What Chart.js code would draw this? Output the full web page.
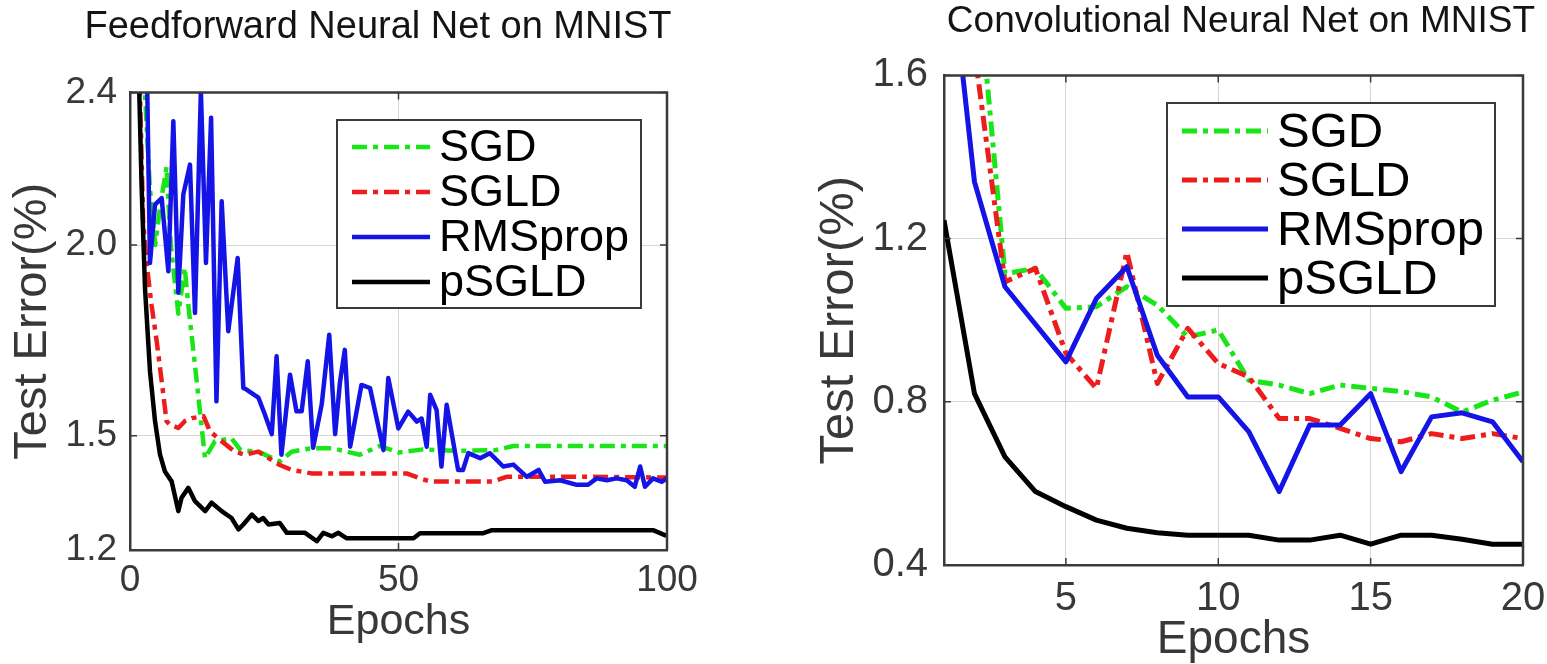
<!DOCTYPE html>
<html>
<head>
<meta charset="utf-8">
<title>Test error on MNIST</title>
<script src="https://cdn.jsdelivr.net/npm/chart.js@4.4.1/dist/chart.umd.min.js"></script>
<style>
  html, body { margin: 0; padding: 0; background: #fff; overflow: hidden; }
  #wrap { position: relative; width: 1547px; height: 664px; }
  #ffChart { position: absolute; left: 0; top: 0; }
  #cnnChart { position: absolute; left: 790px; top: 0; }
</style>
</head>
<body>
<div id="wrap">
  <canvas id="ffChart" width="756" height="664"></canvas>
  <canvas id="cnnChart" width="757" height="664"></canvas>
</div>
<script>
// ---- values ----
const seriesNames = ['SGD', 'SGLD', 'RMSprop', 'pSGLD'];

// Feedforward net: breakpoints of each curve (epoch, test error %)
const ffSgdEpoch = [2.0, 2.6, 3.7, 4.7, 5.6, 6.8, 7.6, 9.0, 10.2, 10.8, 12.4, 13.97, 15.8, 18.9, 20.6, 23.9, 27.9, 30.1, 33.8, 37.6, 42.8, 46.5, 50.0, 54.6, 60.9, 68.0, 71.4, 100];
const ffSgdErr = [2.7, 2.45, 2.15, 2.0, 2.1, 2.205, 2.0, 1.82, 1.94, 1.85, 1.646, 1.441, 1.485, 1.493, 1.462, 1.458, 1.432, 1.458, 1.467, 1.467, 1.45, 1.473, 1.456, 1.464, 1.46, 1.462, 1.473, 1.473];

const ffSgldEpoch = [1.5, 2.45, 3.1, 4.0, 4.97, 5.9, 6.8, 7.45, 9.0, 10.2, 11.5, 13.7, 14.9, 17.1, 19.5, 21.4, 23.9, 25.8, 27.9, 30.1, 33.8, 51.5, 54.0, 55.9, 67.7, 70.1, 85.6, 100];
const ffSgldErr = [2.6, 2.063, 1.95, 1.844, 1.748, 1.643, 1.538, 1.529, 1.52, 1.538, 1.546, 1.551, 1.511, 1.485, 1.458, 1.45, 1.458, 1.441, 1.423, 1.41, 1.401, 1.401, 1.388, 1.38, 1.38, 1.392, 1.392, 1.39];

const ffRmsEpoch = [3.0, 3.72, 4.66, 5.9, 7.14, 8.07, 9.0, 9.93, 11.17, 12.1, 13.2, 14.15, 15.1, 16.1, 17.07, 18.3, 20.05, 21.1, 21.7, 23.9, 25.1, 26.4, 27.3, 28.2, 29.8, 31.0, 31.97, 33.1, 34.1, 35.7, 37.1, 38.2, 39.1, 40.0, 41.0, 43.1, 44.7, 47.2, 48.1, 49.97, 51.8, 53.4, 54.3, 55.25, 55.9, 57.1, 58.0, 58.97, 61.1, 62.0, 63.0, 65.2, 67.0, 69.5, 71.4, 73.9, 76.1, 77.3, 80.1, 83.2, 85.3, 86.9, 88.8, 90.6, 92.5, 94.0, 95.0, 95.9, 97.4, 99.0, 100];
const ffRmsErr = [2.6, 1.953, 2.106, 2.123, 1.931, 2.325, 1.875, 2.133, 2.211, 1.822, 2.404, 1.953, 2.334, 1.59, 2.115, 1.774, 1.966, 1.625, 1.621, 1.6, 1.556, 1.504, 1.708, 1.45, 1.66, 1.564, 1.564, 1.695, 1.468, 1.582, 1.765, 1.504, 1.64, 1.725, 1.471, 1.633, 1.625, 1.462, 1.651, 1.519, 1.563, 1.537, 1.545, 1.471, 1.607, 1.567, 1.419, 1.581, 1.41, 1.41, 1.454, 1.441, 1.454, 1.419, 1.424, 1.392, 1.41, 1.379, 1.383, 1.371, 1.371, 1.388, 1.383, 1.388, 1.383, 1.366, 1.419, 1.366, 1.388, 1.379, 1.388];

const ffPsgldEpoch = [1.2, 2.17, 2.79, 3.72, 4.66, 5.59, 6.5, 7.76, 9.0, 9.6, 10.86, 12.1, 14.0, 15.2, 17.07, 18.9, 20.2, 21.1, 22.7, 23.9, 24.8, 25.8, 27.9, 29.2, 32.6, 34.8, 36.0, 37.6, 38.8, 40.3, 52.8, 54.0, 65.8, 67.4, 97.4, 99.6, 100];
const ffPsgldErr = [2.7, 2.15, 1.888, 1.669, 1.538, 1.45, 1.406, 1.38, 1.302, 1.337, 1.363, 1.328, 1.302, 1.324, 1.302, 1.284, 1.254, 1.267, 1.293, 1.276, 1.284, 1.267, 1.271, 1.245, 1.245, 1.223, 1.245, 1.236, 1.245, 1.231, 1.231, 1.244, 1.244, 1.252, 1.252, 1.239, 1.239];

const ffXTicks = [0, 50, 100];
const ffYTicks = [1.2, 1.5, 2.0, 2.4];

// Convolutional net: one value per epoch
const cnnEpochs = [1, 2, 3, 4, 5, 6, 7, 8, 9, 10, 11, 12, 13, 14, 15, 16, 17, 18, 19, 20];
const cnnSgd = [2.5, 1.92, 1.114, 1.127, 1.029, 1.033, 1.082, 1.037, 0.959, 0.976, 0.853, 0.841, 0.82, 0.841, 0.833, 0.825, 0.812, 0.775, 0.804, 0.824];
const cnnSgld = [2.2, 1.66, 1.094, 1.127, 0.919, 0.833, 1.167, 0.845, 0.98, 0.894, 0.861, 0.759, 0.759, 0.735, 0.71, 0.702, 0.722, 0.71, 0.722, 0.71];
const cnnRms = [2.02, 1.339, 1.082, 0.99, 0.898, 1.053, 1.131, 0.914, 0.812, 0.812, 0.727, 0.58, 0.743, 0.743, 0.82, 0.629, 0.763, 0.773, 0.751, 0.653];
const cnnPsgld = [1.245, 0.82, 0.665, 0.58, 0.543, 0.51, 0.49, 0.479, 0.473, 0.473, 0.473, 0.461, 0.461, 0.473, 0.451, 0.473, 0.473, 0.463, 0.451, 0.451];

const cnnXTicks = [5, 10, 15, 20];
const cnnYTicks = [0.4, 0.8, 1.2, 1.6];

// ---- styling ----
Chart.defaults.font.family = "'Liberation Sans', Arial, Helvetica, sans-serif";
const textColor = '#383838';
const axisColor = '#3a3a3a';
const gridColor = '#d6d6d6';
const lineColors = ['#18e618', '#ee1c1c', '#1414e6', '#000000'];
const dashDot = [15, 6, 5, 6];
const lineDashes = [dashDot, dashDot, [], []];

function toPoints(xs, ys) {
    return xs.map((x, i) => ({ x: x, y: ys[i] }));
}

function buildDatasets(pointLists, width) {
    return pointLists.map((pts, i) => ({
        label: seriesNames[i],
        data: pts,
        borderColor: lineColors[i],
        borderWidth: width,
        borderDash: lineDashes[i],
        borderJoinStyle: 'round',
        pointRadius: 0,
        tension: 0,
        fill: false,
        order: 4 - i   // later series drawn on top, like MATLAB
    }));
}

// box around the axes plus inward tick marks
const matlabBox = {
    id: 'matlabBox',
    afterDatasetsDraw(chart, args, opts) {
        const { ctx, chartArea: a, scales } = chart;
        ctx.save();
        ctx.strokeStyle = axisColor;
        ctx.lineWidth = 2.5;
        ctx.beginPath();
        ctx.moveTo(a.left, a.top);
        ctx.lineTo(a.right, a.top);
        ctx.lineTo(a.right, a.bottom);
        ctx.stroke();

        const len = opts.tickLen;
        ctx.lineWidth = 1.5;
        ctx.beginPath();
        scales.x.ticks.forEach(t => {
            const px = scales.x.getPixelForValue(t.value);
            ctx.moveTo(px, a.bottom); ctx.lineTo(px, a.bottom - len);
            ctx.moveTo(px, a.top); ctx.lineTo(px, a.top + len);
        });
        scales.y.ticks.forEach(t => {
            const py = scales.y.getPixelForValue(t.value);
            ctx.moveTo(a.left, py); ctx.lineTo(a.left + len, py);
            ctx.moveTo(a.right, py); ctx.lineTo(a.right - len, py);
        });
        ctx.stroke();
        ctx.restore();
    }
};

// MATLAB style legend box inside the axes
const boxLegend = {
    id: 'boxLegend',
    afterDraw(chart, args, o) {
        const ctx = chart.ctx;
        ctx.save();
        ctx.fillStyle = '#ffffff';
        ctx.fillRect(o.x, o.y, o.w, o.h);
        ctx.strokeStyle = axisColor;
        ctx.lineWidth = 2;
        ctx.strokeRect(o.x, o.y, o.w, o.h);
        chart.data.datasets.forEach((ds, i) => {
            const y = o.firstRow + i * o.rowGap;
            ctx.strokeStyle = ds.borderColor;
            ctx.lineWidth = ds.borderWidth;
            ctx.setLineDash(ds.borderDash);
            ctx.beginPath();
            ctx.moveTo(o.lineX0, y);
            ctx.lineTo(o.lineX1, y);
            ctx.stroke();
            ctx.setLineDash([]);
            ctx.fillStyle = '#000';
            ctx.font = o.fontSize + "px 'Liberation Sans', Arial, sans-serif";
            ctx.textBaseline = 'middle';
            ctx.textAlign = 'left';
            ctx.fillText(ds.label, o.textX, y + 2);
        });
        ctx.restore();
    }
};

function axisOptions(cfg) {
    return {
        x: {
            type: 'linear',
            min: cfg.xMin, max: cfg.xMax,
            afterBuildTicks: s => { s.ticks = cfg.xTicks.map(v => ({ value: v })); },
            afterFit: s => { s.height = cfg.xHeight; s.paddingLeft = 0; s.paddingRight = cfg.rightPad; },
            grid: { color: gridColor, lineWidth: 1, drawTicks: false },
            border: { color: axisColor, width: 2.5 },
            ticks: { color: textColor, font: { size: cfg.tickSize }, padding: cfg.xTickPad, maxRotation: 0, callback: v => String(v) },
            title: { display: true, text: 'Epochs', color: textColor, font: { size: cfg.xTitleSize, lineHeight: 1 }, padding: { top: 0, bottom: cfg.xTitlePad } }
        },
        y: {
            type: 'linear',
            min: cfg.yMin, max: cfg.yMax,
            afterBuildTicks: s => { s.ticks = cfg.yTicks.map(v => ({ value: v })); },
            afterFit: s => { s.width = cfg.yWidth; },
            grid: { color: gridColor, lineWidth: 1, drawTicks: false },
            border: { color: axisColor, width: 2.5 },
            ticks: { color: textColor, font: { size: cfg.tickSize }, padding: cfg.yTickPad, callback: v => v.toFixed(1) },
            title: { display: true, text: 'Test Error(%)', color: textColor, font: { size: cfg.yTitleSize, lineHeight: 1 }, padding: { top: cfg.yTitlePad, bottom: 0 } }
        }
    };
}

// ---- left: feedforward net ----
new Chart(document.getElementById('ffChart'), {
    type: 'line',
    data: {
        datasets: buildDatasets([
            toPoints(ffSgdEpoch, ffSgdErr),
            toPoints(ffSgldEpoch, ffSgldErr),
            toPoints(ffRmsEpoch, ffRmsErr),
            toPoints(ffPsgldEpoch, ffPsgldErr)
        ], 4.5)
    },
    options: {
        responsive: false,
        animation: false,
        events: [],
        layout: { padding: 0 },
        scales: axisOptions({
            xMin: 0, xMax: 100, xTicks: ffXTicks, yMin: 1.2, yMax: 2.4, yTicks: ffYTicks,
            xHeight: 114, rightPad: 89, yWidth: 130,
            tickSize: 37, xTickPad: 9, yTickPad: 13,
            xTitleSize: 43, xTitlePad: 20, yTitleSize: 47, yTitlePad: 10
        }),
        plugins: {
            legend: { display: false },
            tooltip: { enabled: false },
            title: {
                display: true, text: 'Feedforward Neural Net on MNIST', color: '#141414',
                font: { size: 38, weight: 'normal', lineHeight: 1.2 }, padding: { top: 5, bottom: 42 }
            },
            matlabBox: { tickLen: 7 },
            boxLegend: { x: 337, y: 120, w: 304, h: 188, firstRow: 147, rowGap: 45, lineX0: 352, lineX1: 430, textX: 439, fontSize: 45 }
        }
    },
    plugins: [matlabBox, boxLegend]
});

// ---- right: convolutional net ----
new Chart(document.getElementById('cnnChart'), {
    type: 'line',
    data: {
        datasets: buildDatasets([
            toPoints(cnnEpochs, cnnSgd),
            toPoints(cnnEpochs, cnnSgld),
            toPoints(cnnEpochs, cnnRms),
            toPoints(cnnEpochs, cnnPsgld)
        ], 5)
    },
    options: {
        responsive: false,
        animation: false,
        events: [],
        layout: { padding: { top: 0, left: 0, bottom: 0, right: 12 } },
        scales: axisOptions({
            xMin: 1, xMax: 20, xTicks: cnnXTicks, yMin: 0.4, yMax: 1.6, yTicks: cnnYTicks,
            xHeight: 99, rightPad: 24, yWidth: 154,
            tickSize: 40, xTickPad: 10, yTickPad: 16,
            xTitleSize: 46, xTitlePad: 1, yTitleSize: 49, yTitlePad: 25
        }),
        plugins: {
            legend: { display: false },
            tooltip: { enabled: false },
            title: {
                display: true, text: 'Convolutional Neural Net on MNIST', color: '#141414', align: 'end',
                font: { size: 37, weight: 'normal', lineHeight: 1.2 }, padding: { top: 0, bottom: 31 }
            },
            matlabBox: { tickLen: 7 },
            boxLegend: { x: 377, y: 103, w: 328, h: 203, firstRow: 131, rowGap: 49, lineX0: 392, lineX1: 478, textX: 487, fontSize: 49 }
        }
    },
    plugins: [matlabBox, boxLegend]
});
</script>
</body>
</html>
